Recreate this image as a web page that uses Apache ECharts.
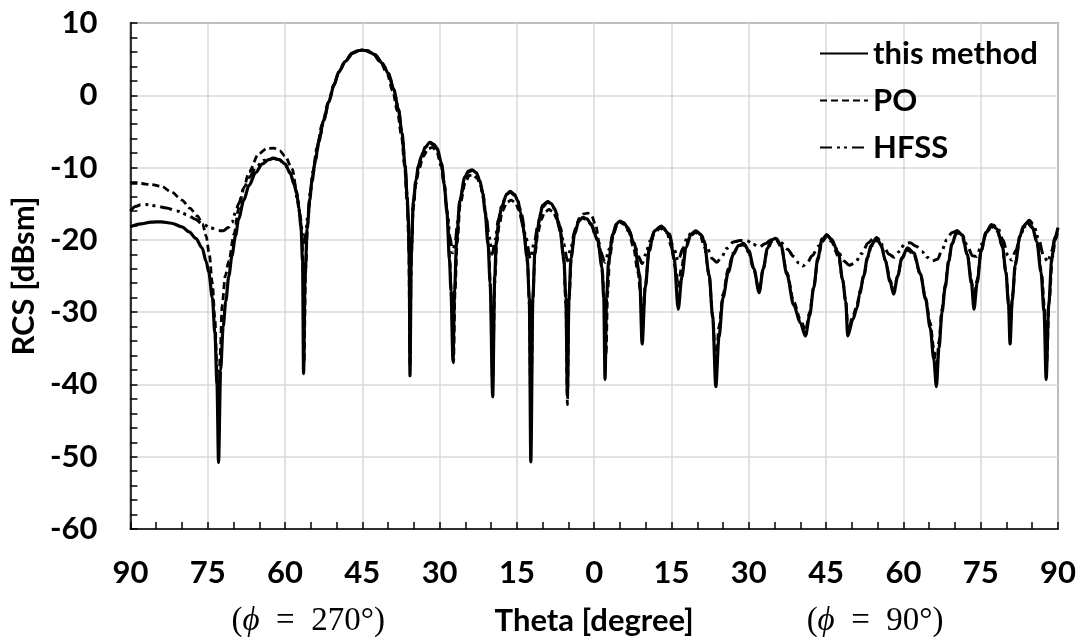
<!DOCTYPE html>
<html>
<head>
<meta charset="utf-8">
<script src="https://cdn.jsdelivr.net/npm/echarts@6.0.0/dist/echarts.min.js"></script>
<style>
html, body { margin: 0; padding: 0; background: #fff; }
#chart { width: 1086px; height: 644px; }
</style>
</head>
<body>
<div id="chart"></div>
<script>
// theta: negative side is the phi = 270 cut, positive side is phi = 90
const methodTheta = [-90, -88, -86, -84, -82, -80, -78.6, -77.3, -76.1, -75.3, -74.8, -74.1, -73.6, -73.2, -72.9, -72.5, -72, -71.5, -70.9, -70.3, -69.6, -69, -68, -67, -65.7, -64.4, -63.2, -62.2, -61.1, -60, -59.1, -58.3, -57.7, -57.3, -56.9, -56.6, -56.4, -56.1, -55.7, -55.2, -54.8, -54.1, -53.5, -52.5, -51.5, -50.5, -49.6, -48.3, -47, -46, -45, -44, -42.5, -41.2, -39.9, -38.9, -38, -37.3, -36.7, -36.3, -36.1, -35.9, -35.75, -35.5, -35.1, -34.6, -34.1, -33.4, -32.8, -31.9, -31.1, -30.5, -29.6, -29.1, -28.6, -28.1, -27.8, -27.4, -27.1, -26.7, -26.1, -25.1, -24.4, -23.7, -22.9, -22.2, -21.6, -21.2, -20.6, -20.2, -19.7, -19.3, -19, -18.5, -18, -17, -16.3, -15.5, -14.8, -14.3, -13.8, -13, -12.6, -12.3, -11.9, -11.5, -11, -10.6, -10, -9, -8.3, -7.7, -6.7, -5.9, -5.5, -5.2, -4.9, -4.5, -3.8, -3, -2.2, -1.4, -0.6, 0.7, 1.5, 1.85, 2.1, 2.4, 2.8, 3.6, 4.3, 5, 5.7, 6.5, 7.8, 8.8, 9.3, 9.9, 10.7, 11.7, 13, 14.6, 15.5, 16.3, 17, 17.8, 18.8, 19.7, 20.6, 21.3, 22.3, 23, 23.6, 24.2, 25, 26, 27, 28, 29, 30, 31, 32, 32.8, 33.6, 34.4, 35.2, 36.2, 37.4, 38.7, 40, 41, 41.8, 42.6, 43.4, 44.2, 45.1, 46, 47.4, 48.2, 48.8, 49.2, 50.2, 51, 51.5, 52.3, 53, 53.7, 54.8, 55.7, 56.5, 57.4, 58.1, 58.9, 59.7, 60.8, 62, 63.3, 64.3, 65.2, 65.9, 66.4, 66.9, 67.5, 68.1, 68.8, 69.4, 70.4, 71.4, 72.4, 73.2, 73.7, 74.3, 75.1, 76, 77.1, 78.2, 79.2, 79.9, 80.4, 80.7, 81.1, 81.7, 82.6, 83.3, 84.1, 85, 85.9, 86.7, 87.3, 87.7, 88.2, 88.8, 89.4, 90];
const methodRcs = [-18.2, -17.8, -17.55, -17.5, -17.7, -18.2, -18.9, -19.8, -21.1, -23, -24.5, -28, -33, -40, -50.8, -38, -32, -28.5, -25, -22.2, -19.4, -17.1, -14.5, -12.5, -10.7, -9.5, -8.9, -8.7, -8.9, -9.5, -10.6, -12, -13.7, -15.7, -18.2, -23, -38.5, -25, -18.5, -14.5, -12, -9, -6.5, -3.5, -0.9, 1.4, 3.2, 4.7, 5.8, 6.15, 6.25, 6.15, 5.6, 4.5, 3, 0.8, -1.9, -5.2, -9.7, -14, -16.7, -22, -38.8, -22, -14.8, -11.8, -9.7, -8.2, -7.2, -6.5, -6.8, -7.3, -9.5, -12.3, -16, -22.6, -27, -36.8, -27, -20.1, -14.6, -11.3, -10.5, -10.3, -10.7, -11.8, -13.6, -16, -20.6, -26, -41.7, -25, -20.1, -17.3, -15.5, -13.7, -13.3, -13.7, -14.6, -16.2, -18.3, -22.5, -28, -50.7, -28, -21.5, -18.6, -16.9, -15.2, -14.7, -15, -15.7, -18.3, -22.5, -28, -41.5, -28, -22.5, -19.2, -17.4, -16.9, -17.1, -17.8, -20.1, -23.8, -28, -39.3, -28, -22.9, -19.2, -17.8, -17.4, -17.6, -18.3, -20.6, -24.8, -34.4, -26.6, -21.1, -18.75, -18.1, -19.2, -22.5, -29.6, -25.2, -21.1, -19.2, -18.75, -19.2, -20.1, -24.8, -30.8, -40.3, -33.5, -28, -24.5, -22, -20.8, -20.5, -21.5, -24, -27.3, -24, -21.2, -20, -19.8, -20.6, -24.8, -29, -31.5, -33.3, -30.5, -26.6, -22.5, -20, -19.3, -19.9, -21.8, -25.5, -28.5, -33.3, -31, -29.4, -27.5, -25, -22.5, -20.8, -19.7, -20.8, -22.9, -25.8, -27.5, -25, -22.5, -21.1, -21.8, -24.7, -28.2, -32.2, -36.5, -40.3, -35, -30, -26.6, -23, -20.6, -18.75, -19.3, -22, -26, -29.6, -26, -21.5, -19, -17.9, -18.5, -20.8, -24.5, -29, -34.4, -28.5, -23.5, -19.5, -18.1, -17.6, -18.2, -20.3, -24.5, -30, -39.3, -29, -22.5, -19.7, -18.3];

const poTheta = [-90, -88, -86, -84, -82, -80, -78.5, -77, -76, -75.3, -74.7, -74.1, -73.6, -73.2, -72.9, -72.6, -72.2, -71.6, -70.9, -69.9, -69, -68, -67, -65.1, -63.6, -62.2, -61, -60, -58.6, -57.7, -57.1, -56.7, -56.5, -56.3, -56, -55.6, -55.1, -54.6, -53.8, -52.8, -51.6, -50.5, -49.4, -48.1, -46.8, -45.5, -44.5, -43, -41.5, -40.2, -39.1, -38.2, -37.4, -36.8, -36.3, -36, -35.75, -35.5, -35.1, -34.6, -34, -33.2, -32.2, -31.4, -30.6, -29.7, -29.1, -28.5, -28, -27.7, -27.3, -27, -26.6, -26, -25, -24.2, -23.5, -22.7, -22, -21.5, -21, -20.5, -20.1, -19.7, -19.3, -18.9, -18.4, -17.8, -16.9, -16.1, -15.3, -14.6, -14, -13.5, -12.9, -12.6, -12.3, -11.9, -11.5, -10.9, -10.3, -9.6, -8.8, -8, -7.2, -6.5, -5.9, -5.5, -5.2, -4.9, -4.4, -3.7, -2.9, -2, -1.3, -0.5, 0.3, 1, 1.6, 2, 2.3, 2.6, 3, 3.7, 4.4, 5.1, 5.9, 6.7, 7.6, 8.5, 9, 9.4, 9.9, 10.6, 11.6, 12.8, 14.1, 15, 15.8, 16.3, 16.9, 17.7, 18.7, 19.7, 20.6, 21.4, 22.3, 23, 23.6, 24.2, 25, 26, 27, 28, 29, 30, 31, 32, 32.8, 33.6, 34.5, 35.3, 36.3, 37.4, 38.7, 40, 41, 41.8, 42.6, 43.4, 44.2, 45.1, 46, 47.4, 48.2, 48.8, 49.3, 50.2, 51, 51.6, 52.4, 53.1, 53.8, 54.9, 55.8, 56.6, 57.4, 58.1, 58.9, 59.7, 60.8, 62, 63.3, 64.3, 65.2, 65.9, 66.4, 66.9, 67.5, 68.1, 68.8, 69.4, 70.4, 71.4, 72.4, 73.2, 73.7, 74.3, 75.1, 76, 77.1, 78.2, 79.2, 79.9, 80.4, 80.8, 81.2, 81.8, 82.6, 83.3, 84.2, 85.1, 86, 86.8, 87.4, 87.8, 88.3, 88.9, 89.5, 90];
const poRcs = [-12.2, -12.2, -12.35, -12.6, -13.4, -14.5, -15.6, -16.7, -17.8, -19.5, -22, -26, -31, -38, -45, -36, -29, -25, -22.9, -19.2, -15.7, -12.8, -10.6, -8.1, -7.4, -7.3, -7.7, -8.4, -10.2, -13.4, -16.5, -19.5, -24, -37, -24, -17.8, -13.5, -10.5, -7.2, -4, -1, 1.5, 3.4, 4.9, 5.8, 6.2, 6.2, 5.8, 4.6, 3, 0.6, -2.2, -5.6, -9.8, -15, -20, -37.5, -21, -15.5, -12.3, -10.2, -8.5, -7.4, -7.2, -7.7, -9.8, -12.5, -16.5, -23, -28, -37, -27, -20.5, -15, -12, -11.1, -11, -11.5, -12.6, -14.3, -16.8, -21, -27, -40, -26, -20.5, -17.8, -16, -14.8, -14.5, -14.9, -15.9, -17.5, -19.5, -23.5, -29, -45, -28, -22, -19, -17.2, -16.2, -15.8, -16.1, -17.2, -19.2, -23, -29, -42.8, -28.5, -22, -18.5, -17, -16.4, -16.3, -16.7, -18, -20.5, -24.5, -29, -36, -27.5, -22.5, -19.4, -18, -17.6, -17.9, -18.9, -21, -24.5, -27.5, -32, -26.5, -21.8, -19.2, -18.4, -19, -21, -24, -26.4, -24, -21, -19.4, -19, -19.5, -21, -25, -30.5, -38, -32, -27.5, -24, -21.8, -20.8, -20.7, -21.8, -24.3, -27, -24, -21.4, -20.2, -20, -21, -24.5, -28.5, -31, -32.5, -30, -26.5, -22.8, -20.3, -19.6, -20.2, -22.3, -25.5, -28.5, -32.5, -30.5, -29, -27, -24.7, -22.4, -20.9, -20, -21, -23, -25.5, -27, -25, -22.6, -21.4, -22, -24.8, -28, -31.5, -35, -38, -34, -29.5, -26.2, -22.8, -20.6, -19, -19.6, -22, -25.5, -28, -25.5, -21.5, -19.2, -18.2, -18.8, -21, -24.5, -28.5, -31.5, -27.5, -23, -19.6, -18.3, -17.8, -18.4, -20.5, -24.5, -29.5, -37, -28.5, -22.5, -20, -18.8];

const hfssTheta = [-90, -89, -88, -87, -85, -83, -81, -79, -77.5, -76, -74.5, -73, -72, -71, -70.3, -69.6, -69, -68, -67, -65.5, -64, -62.5, -61.2, -60, -59, -58.2, -57.5, -57, -56.6, -56.3, -56, -55.6, -55.1, -54.6, -54, -53.3, -52.4, -51.5, -50.5, -49.6, -48.3, -47, -46, -45, -44, -42.5, -41.2, -39.9, -38.9, -38, -37.3, -36.7, -36.3, -36.1, -35.9, -35.75, -35.5, -35.1, -34.6, -34.1, -33.4, -32.8, -31.9, -31.1, -30.5, -29.6, -29.1, -28.5, -28, -27.5, -27, -26.5, -26, -25.1, -24.4, -23.7, -22.9, -22.2, -21.6, -21, -20.4, -19.8, -19.2, -18.6, -18, -17, -16.3, -15.5, -14.8, -14.1, -13.3, -12.4, -11.6, -10.9, -10.1, -9, -8.2, -7.5, -6.6, -5.9, -5.2, -4.5, -3.8, -3, -2.2, -1.4, -0.6, 0.3, 1.2, 2.1, 2.9, 3.7, 4.4, 5, 5.8, 6.7, 7.8, 8.6, 9.3, 10, 10.8, 11.8, 13, 14.3, 15.3, 16.3, 17.2, 18.1, 19, 19.8, 20.8, 21.8, 22.9, 23.8, 24.7, 25.7, 27, 28.3, 29.6, 30.8, 32, 33.3, 34.3, 35.2, 36.3, 37.5, 38.7, 39.7, 40.5, 41.3, 42.3, 43.5, 44.3, 45.1, 46, 47.2, 48.4, 49.5, 50.6, 51.9, 53.2, 54.2, 55, 56.1, 57.2, 58.2, 59.2, 60.3, 61.3, 62.5, 63.6, 64.6, 65.6, 66.6, 67.5, 68.4, 69.4, 70.4, 71.4, 72.4, 73.4, 74.2, 75.2, 76.2, 77.2, 78.3, 79.3, 80.3, 81, 81.8, 82.8, 83.7, 84.4, 85.2, 86.2, 87.2, 88, 88.8, 89.4, 90];
const hfssRcs = [-16, -15.4, -15.15, -15.1, -15.3, -15.6, -16, -16.5, -17.1, -17.8, -18.3, -18.7, -18.75, -18.3, -17.6, -16.2, -15, -12.9, -11.4, -9.8, -9, -8.7, -8.9, -9.6, -10.8, -12.4, -14.8, -17, -19.3, -20.4, -19.2, -16.8, -13.5, -11, -8.6, -6, -3.2, -0.9, 1.4, 3.2, 4.7, 5.8, 6.15, 6.25, 6.15, 5.6, 4.5, 3, 0.8, -1.9, -5.2, -9.7, -14, -17, -22, -35, -22, -14.8, -11.8, -9.7, -8.2, -7.2, -6.6, -6.9, -7.4, -9.6, -12.3, -16.2, -19.5, -21.8, -20.5, -17.5, -14.5, -11.4, -10.6, -10.4, -10.8, -11.9, -13.7, -16.5, -19.5, -22, -20, -17.2, -15.4, -13.7, -13.4, -13.8, -14.7, -16.5, -19.5, -22.6, -20.3, -17.8, -15.5, -14.8, -15.1, -16, -18.2, -20.6, -22.9, -21, -18.8, -17.4, -17, -17.2, -17.9, -19.5, -21.6, -23.1, -21.3, -19.2, -17.9, -17.5, -17.7, -18.6, -20.5, -22.3, -23.3, -22, -20.2, -18.7, -18.2, -18.9, -20.8, -22.9, -21.2, -19.6, -18.9, -18.8, -19.4, -20.9, -22.6, -23.1, -22.4, -21.2, -20.3, -20.1, -20.1, -20.6, -21, -20.5, -20, -19.8, -20.4, -21.3, -22.3, -23.2, -23.6, -23.2, -22.2, -20.9, -19.8, -19.3, -19.9, -21.4, -22.9, -23.5, -23.2, -21.9, -20.4, -19.8, -19.8, -20.8, -22, -22.4, -21.6, -20.5, -20.4, -20.9, -21.6, -22.4, -22.9, -22.7, -21.4, -20, -19, -18.75, -19.3, -20.8, -22.2, -22.3, -20.6, -18.9, -17.9, -18.3, -20, -22.2, -22.8, -21.5, -19.2, -17.8, -17.3, -17.8, -19.8, -22.2, -23, -21.5, -19.8, -18.6];

const seriesNames = ['this method', 'PO', 'HFSS'];
const phiLabels = [
  { theta: -55.5, text: '270°)' },
  { theta: 54.5, text: '90°)' }
];

const FONT = 'Lato';
const zip = (xs, ys) => xs.map((x, i) => [x, ys[i]]);

const chart = echarts.init(document.getElementById('chart'));

chart.setOption({
  animation: false,
  backgroundColor: '#fff',
  grid: {
    left: 128,
    right: 28,
    top: 23,
    bottom: 115,
    show: true,
    borderColor: '#404040',
    borderWidth: 1.5
  },
  legend: {
    data: seriesNames,
    orient: 'vertical',
    left: 814,
    top: 33,
    itemWidth: 48,
    itemHeight: 14,
    itemGap: 16,
    itemStyle: { opacity: 0 },
    textStyle: {
      fontFamily: FONT,
      fontWeight: 'bold',
      fontSize: 31,
      color: '#000'
    }
  },
  xAxis: {
    type: 'value',
    min: -90,
    max: 90,
    interval: 15,
    name: 'Theta [degree]',
    nameLocation: 'middle',
    nameGap: 76,
    nameTextStyle: { fontFamily: FONT, fontWeight: 'bold', fontSize: 31, color: '#000' },
    axisLine: { onZero: false, lineStyle: { color: '#000', width: 1.5 } },
    axisTick: { inside: true, length: 7, lineStyle: { color: '#000', width: 1.5 } },
    minorTick: { show: true, splitNumber: 3, length: 7, lineStyle: { color: '#000', width: 1.5 } },
    axisLabel: {
      margin: 28,
      fontFamily: FONT,
      fontWeight: 'bold',
      fontSize: 31,
      color: '#000',
      formatter: v => String(Math.abs(v))
    },
    splitLine: { show: true, lineStyle: { color: '#d9d9d9', width: 1.5 } }
  },
  yAxis: {
    type: 'value',
    min: -60,
    max: 10,
    interval: 10,
    name: 'RCS [dBsm]',
    nameLocation: 'middle',
    nameGap: 86,
    nameTextStyle: { fontFamily: FONT, fontWeight: 'bold', fontSize: 31, color: '#000' },
    axisLine: { show: true, onZero: false, lineStyle: { color: '#000', width: 1.5 } },
    axisTick: { show: true, inside: true, length: 7, lineStyle: { color: '#000', width: 1.5 } },
    minorTick: { show: true, splitNumber: 5, length: 7, lineStyle: { color: '#000', width: 1.5 } },
    axisLabel: {
      margin: 33,
      fontFamily: FONT,
      fontWeight: 'bold',
      fontSize: 31,
      color: '#000'
    },
    splitLine: { show: true, lineStyle: { color: '#d9d9d9', width: 1.5 } }
  },
  series: [
    {
      name: 'this method',
      type: 'line',
      z: 4,
      data: zip(methodTheta, methodRcs),
      symbol: 'none',
      smooth: 0.3,
      smoothMonotone: 'x',
      itemStyle: { color: '#000' },
      lineStyle: { color: '#000', width: 3.2 }
    },
    {
      name: 'PO',
      type: 'line',
      z: 3,
      data: zip(poTheta, poRcs),
      symbol: 'none',
      smooth: 0.3,
      smoothMonotone: 'x',
      itemStyle: { color: '#000' },
      lineStyle: { color: '#000', width: 2.8, type: [7, 4] }
    },
    {
      name: 'HFSS',
      type: 'line',
      z: 2,
      data: zip(hfssTheta, hfssRcs),
      symbol: 'none',
      smooth: 0.3,
      smoothMonotone: 'x',
      itemStyle: { color: '#000' },
      lineStyle: { color: '#000', width: 3, type: [12, 5, 3, 4, 3, 5] }
    }
  ]
});

// the two phi cut captions under the theta labels
const bottomY = chart.convertToPixel({ yAxisIndex: 0 }, -60);
chart.setOption({
  graphic: phiLabels.map(p => ({
    type: 'text',
    x: chart.convertToPixel({ xAxisIndex: 0 }, p.theta),
    y: bottomY + 92,
    style: {
      text: '{n|(}{i|ϕ}{n|  =  ' + p.text + '}',
      align: 'center',
      verticalAlign: 'middle',
      rich: {
        n: { fontFamily: 'Liberation Serif', fontSize: 33, fill: '#000' },
        i: { fontFamily: 'Liberation Serif', fontStyle: 'italic', fontSize: 33, fill: '#000' }
      }
    }
  }))
});
</script>
</body>
</html>
